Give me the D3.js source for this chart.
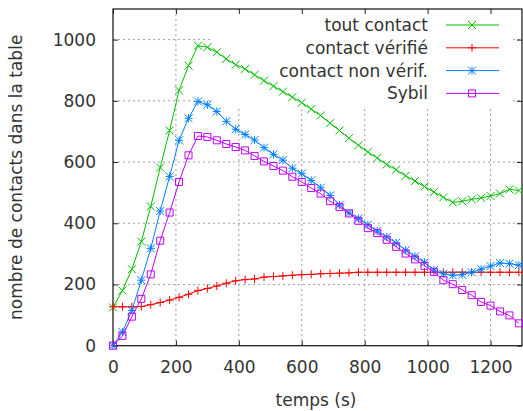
<!DOCTYPE html>
<html>
<head>
<meta charset="utf-8">
<script src="https://cdn.jsdelivr.net/npm/d3@7"></script>
<style>
  body { margin: 0; background: #fff; }
  text { font-family: "DejaVu Sans", sans-serif; }
</style>
</head>
<body>
<script>
// sample times (s)
var times = [0, 30, 60, 90, 120, 150, 180, 210, 240, 270, 300, 330, 360, 390, 420,
  450, 480, 510, 540, 570, 600, 630, 660, 690, 720, 750, 780, 810, 840, 870, 900,
  930, 960, 990, 1020, 1050, 1080, 1110, 1140, 1170, 1200, 1230, 1260, 1290];

var toutContact = [125, 180, 250, 340, 455, 582, 703, 834, 915, 980, 975, 959, 937, 918, 904,
  885, 866, 848, 830, 812, 794, 773, 752, 727, 703, 678, 655, 633, 613, 592, 575,
  555, 538, 520, 502, 485, 468, 472, 478, 483, 489, 497, 511, 507];

var contactVerifie = [127, 127, 127, 128, 134, 141, 149, 158, 168, 180, 187, 195, 204, 212, 216,
  218, 224, 226, 228, 230, 232, 233, 235, 236, 237, 238, 240, 240, 240, 240, 240,
  240, 240, 240, 240, 240, 240, 240, 240, 240, 240, 240, 240, 240];

var contactNonVerif = [0, 45, 115, 214, 318, 440, 553, 671, 743, 798, 787, 765, 733, 707, 690,
  672, 647, 625, 606, 580, 562, 540, 516, 491, 460, 434, 416, 395, 375, 355, 336,
  312, 292, 272, 247, 235, 230, 232, 240, 250, 260, 270, 268, 263];

var sybil = [0, 32, 95, 153, 233, 343, 435, 535, 622, 685, 682, 671, 659, 649, 638,
  620, 602, 587, 572, 552, 535, 515, 497, 472, 453, 432, 408, 384, 368, 346, 323,
  301, 282, 261, 241, 214, 201, 182, 165, 143, 131, 112, 99, 73];

var seriesNames = ["tout contact", "contact vérifié", "contact non vérif.", "Sybil"];
var seriesColors = ["#00c000", "#ff0000", "#0080ff", "#c000ff"];
var seriesMarks = ["cross", "plus", "star", "square"];

var xTicks = [0, 200, 400, 600, 800, 1000, 1200];
var yTicks = [0, 200, 400, 600, 800, 1000];

var W = 523, H = 411;
var plot = {left: 113, right: 522, top: 9, bottom: 345.7};
var textColor = "#333";

var x = d3.scaleLinear().domain([0, 1300]).range([plot.left, plot.right]);
var y = d3.scaleLinear().domain([0, 1100]).range([plot.bottom, plot.top]);

var svg = d3.select("body").append("svg")
    .attr("width", W)
    .attr("height", H);

// grid
svg.append("g").selectAll("line")
  .data(xTicks.filter(function(d) { return d > 0; }))
  .enter().append("line")
    .attr("x1", d => x(d)).attr("x2", d => x(d))
    .attr("y1", plot.top).attr("y2", plot.bottom)
    .attr("stroke", "#a0a0a0").attr("stroke-dasharray", "2,3");
svg.append("g").selectAll("line")
  .data(yTicks.filter(function(d) { return d > 0; }))
  .enter().append("line")
    .attr("x1", plot.left).attr("x2", plot.right)
    .attr("y1", d => y(d)).attr("y2", d => y(d))
    .attr("stroke", "#a0a0a0").attr("stroke-dasharray", "2,3");

// key area hides the grid
svg.append("rect")
    .attr("x", 210).attr("y", plot.top + 1)
    .attr("width", 300).attr("height", 96)
    .attr("fill", "#fff");

// axes (ticks inside)
function styleAxis(g) {
  g.select(".domain").remove();
  g.selectAll("line").attr("stroke", "#222");
  g.selectAll("text")
    .attr("fill", textColor)
    .attr("font-size", "17px")
    .attr("font-family", "DejaVu Sans, sans-serif");
}

var fmt = d3.format("d");

svg.append("g")
    .attr("transform", "translate(" + plot.left + ",0)")
    .call(d3.axisLeft(y).tickValues(yTicks).tickSize(-5).tickPadding(17).tickFormat(fmt))
    .call(styleAxis);
svg.append("g")
    .attr("transform", "translate(" + plot.right + ",0)")
    .call(d3.axisRight(y).tickValues(yTicks).tickSize(-5).tickFormat(""))
    .call(styleAxis);
svg.append("g")
    .attr("transform", "translate(0," + plot.bottom + ")")
    .call(d3.axisBottom(x).tickValues(xTicks).tickSize(-5).tickPadding(15).tickFormat(fmt))
    .call(styleAxis);
svg.append("g")
    .attr("transform", "translate(0," + plot.top + ")")
    .call(d3.axisTop(x).tickValues(xTicks).tickSize(-5).tickFormat(""))
    .call(styleAxis);

// frame
svg.append("rect")
    .attr("x", plot.left).attr("y", plot.top)
    .attr("width", plot.right - plot.left)
    .attr("height", plot.bottom - plot.top)
    .attr("fill", "none")
    .attr("stroke", "#222")
    .attr("stroke-width", 1.3);

// marker shapes
function markPath(type, cx, cy) {
  var s = 4;
  if (type == "cross") {
    return "M" + (cx - s) + "," + (cy - s) + "L" + (cx + s) + "," + (cy + s) +
           "M" + (cx - s) + "," + (cy + s) + "L" + (cx + s) + "," + (cy - s);
  }
  if (type == "plus") {
    return "M" + (cx - s) + "," + cy + "L" + (cx + s) + "," + cy +
           "M" + cx + "," + (cy - s) + "L" + cx + "," + (cy + s);
  }
  if (type == "star") {
    return markPath("cross", cx, cy) + markPath("plus", cx, cy);
  }
  var q = 3.5;
  return "M" + (cx - q) + "," + (cy - q) + "h" + (2 * q) + "v" + (2 * q) + "h" + (-2 * q) + "Z";
}

var allSeries = [toutContact, contactVerifie, contactNonVerif, sybil];

var line = d3.line()
    .x(function(d) { return x(d[0]); })
    .y(function(d) { return y(d[1]); });

allSeries.forEach(function(values, i) {
  var pts = times.map(function(t, j) { return [t, values[j]]; });
  var g = svg.append("g");
  g.append("path")
      .attr("d", line(pts))
      .attr("fill", "none")
      .attr("stroke", seriesColors[i])
      .attr("stroke-width", 1);
  g.selectAll("path.mk")
    .data(pts)
    .enter().append("path")
      .attr("class", "mk")
      .attr("d", function(d) { return markPath(seriesMarks[i], x(d[0]), y(d[1])); })
      .attr("fill", "none")
      .attr("stroke", seriesColors[i])
      .attr("stroke-width", 1);
});

// legend
var legend = svg.append("g");
seriesNames.forEach(function(name, i) {
  var ly = 25 + 22.8 * i;
  legend.append("text")
      .attr("x", 428).attr("y", ly + 6)
      .attr("text-anchor", "end")
      .attr("font-size", "17px")
      .attr("fill", textColor)
      .text(name);
  legend.append("line")
      .attr("x1", 446).attr("x2", 499)
      .attr("y1", ly).attr("y2", ly)
      .attr("stroke", seriesColors[i]);
  legend.append("path")
      .attr("d", markPath(seriesMarks[i], 472, ly))
      .attr("fill", "none")
      .attr("stroke", seriesColors[i]);
});

// axis titles
svg.append("text")
    .attr("x", 316).attr("y", 406)
    .attr("text-anchor", "middle")
    .attr("font-size", "17px")
    .attr("fill", textColor)
    .text("temps (s)");

svg.append("text")
    .attr("transform", "translate(22," + ((plot.top + plot.bottom) / 2) + ") rotate(-90)")
    .attr("text-anchor", "middle")
    .attr("font-size", "17px")
    .attr("fill", textColor)
    .text("nombre de contacts dans la table");
</script>
</body>
</html>
